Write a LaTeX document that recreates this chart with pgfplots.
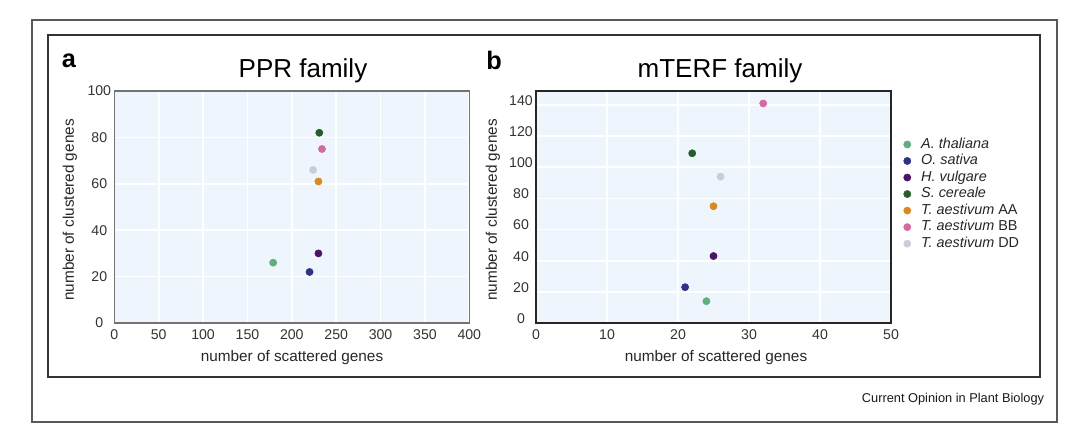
\documentclass[border=0pt]{standalone}
\usepackage{pgfplots}
\pgfplotsset{compat=1.18}
\usepackage{fontspec}
\setmainfont{Liberation Sans}
\definecolor{bgblue}{RGB}{239,245,253}
\definecolor{cA}{RGB}{95,174,126}
\definecolor{cO}{RGB}{46,49,132}
\definecolor{cH}{RGB}{75,20,104}
\definecolor{cS}{RGB}{37,94,42}
\definecolor{cAA}{RGB}{217,138,31}
\definecolor{cBB}{RGB}{212,106,160}
\definecolor{cDD}{RGB}{200,205,214}
\pgfplotsset{
  common/.style={
    scale only axis, width=266.25pt, height=174pt, anchor=south west,
    grid=major, grid style={white, line width=1.3pt},
    axis background/.style={fill=bgblue},
    major tick length=0pt,
    tick label style={font=\fontsize{10.6}{12}\selectfont, text=black!80},
    xticklabel style={anchor=center, yshift=-9pt},
    /pgf/number format/assume math mode=true,
  },
  dot/.style={only marks, mark=*, mark size=2.7pt, color=#1, mark options={fill=#1, draw=#1},
    legend image code/.code={\draw[##1] plot coordinates {(2.7pt,0pt)}; \path[draw=none,fill=none] (0pt,0pt) -- (13.1pt,0pt);}},
}
\begin{document}
\begin{tikzpicture}
\begin{scope}[x=0.75pt,y=-0.75pt]
\useasboundingbox (0,0) rectangle (1080,434);
\draw[black!65, line width=1.1pt] (32,20) rectangle (1057,422);
\draw[black!80, line width=1.1pt] (48,35) rectangle (1040,377);
\end{scope}

\begin{axis}[common, at={(85.73pt,-242.25pt)},
  xmin=0, xmax=400, ymin=0, ymax=100,
  xtick={0,50,...,400}, ytick={0,20,...,100},
  yticklabel style={anchor=center, xshift=-11.25pt},
  axis line style={draw=black!55, line width=1pt}]
\addplot[dot=cA] coordinates {(179,26)};
\addplot[dot=cO] coordinates {(220,22)};
\addplot[dot=cH] coordinates {(230,30)};
\addplot[dot=cS] coordinates {(231,82)};
\addplot[dot=cAA] coordinates {(230,61)};
\addplot[dot=cBB] coordinates {(234,75)};
\addplot[dot=cDD] coordinates {(224,66)};
\end{axis}

\begin{axis}[common, at={(402pt,-242.25pt)},
  xmin=0, xmax=50, ymin=0, ymax=149,
  xtick={0,10,...,50}, ytick={0,20,...,140},
  yticklabel style={anchor=center, xshift=-11.25pt, yshift=3.4pt},
  axis line style={draw=black!85, line width=1.1pt},
  legend style={at={(1.035,0.80)}, anchor=north west, draw=none, fill=none,
    inner sep=0pt, column sep=0pt, row sep=2.2pt,
    font=\fontsize{10.8}{12}\selectfont,
    nodes={inner sep=0pt, text height=8pt, text depth=2.2pt, text=black!85}},
  legend cell align=left]
\addplot[dot=cA] coordinates {(24,14)};
\addlegendentry{\textit{A. thaliana}}
\addplot[dot=cO] coordinates {(21,23)};
\addlegendentry{\textit{O. sativa}}
\addplot[dot=cH] coordinates {(25,43)};
\addlegendentry{\textit{H. vulgare}}
\addplot[dot=cS] coordinates {(22,109)};
\addlegendentry{\textit{S. cereale}}
\addplot[dot=cAA] coordinates {(25,75)};
\addlegendentry{\textit{T. aestivum} AA}
\addplot[dot=cBB] coordinates {(32,141)};
\addlegendentry{\textit{T. aestivum} BB}
\addplot[dot=cDD] coordinates {(26,94)};
\addlegendentry{\textit{T. aestivum} DD}
\end{axis}

\begin{scope}[x=0.75pt,y=-0.75pt]
\node[font=\fontsize{19}{22}\selectfont\bfseries] at (69,61) {a};
\node[font=\fontsize{19}{22}\selectfont\bfseries] at (494,60) {b};
\node[font=\fontsize{19.5}{22}\selectfont] at (303,71) {PPR family};
\node[font=\fontsize{19.5}{22}\selectfont] at (720,71) {mTERF family};
\node[font=\fontsize{11.5}{13}\selectfont, text=black!85] at (292,358) {number of scattered genes};
\node[font=\fontsize{11.5}{13}\selectfont, text=black!85] at (716,358) {number of scattered genes};
\node[font=\fontsize{11.5}{13}\selectfont, text=black!85, rotate=90] at (70,210) {number of clustered genes};
\node[font=\fontsize{11.5}{13}\selectfont, text=black!85, rotate=90] at (493,210) {number of clustered genes};
\node[font=\fontsize{9.6}{11}\selectfont, text=black!90] at (953,399) {Current Opinion in Plant Biology};
\end{scope}
\end{tikzpicture}
\end{document}
